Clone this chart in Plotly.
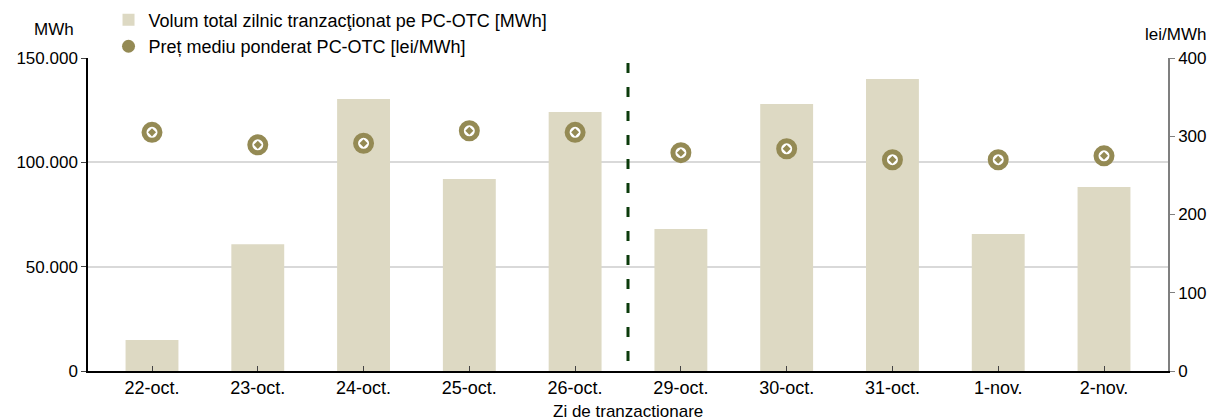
import plotly.graph_objects as go
from plotly.subplots import make_subplots

days = ['22-oct.', '23-oct.', '24-oct.', '25-oct.', '26-oct.',
        '29-oct.', '30-oct.', '31-oct.', '1-nov.', '2-nov.']
volume_mwh = [14800, 60800, 130300, 92000, 124100, 68000, 128000, 139900, 65600, 88200]
price_lei = [305, 289, 291, 307, 305, 279, 284, 270, 270, 275]
week_split = 5  # number of days before the dashed separator

BAR_COL = '#ddd9c3'
DOT_COL = '#948a54'
FONT = 'Liberation Sans, Arial, sans-serif'

fig = make_subplots(specs=[[{'secondary_y': True}]])

fig.add_trace(go.Bar(x=days, y=volume_mwh, name='Volum total zilnic tranzacţionat pe PC-OTC [MWh]',
                     marker=dict(color=BAR_COL, line_width=0), width=0.5), secondary_y=False)

# markers: olive ring, white ring, olive dot
fig.add_trace(go.Scatter(x=days, y=price_lei, mode='markers', showlegend=False,
                         marker=dict(symbol='circle-dot', size=16, color='white',
                                     line=dict(color=DOT_COL, width=5))), secondary_y=True)
# legend-only entry (solid dot, like the original)
fig.add_trace(go.Scatter(x=[None], y=[None], mode='markers', name='Preț mediu ponderat PC-OTC [lei/MWh]',
                         marker=dict(symbol='circle', size=13, color=DOT_COL)), secondary_y=True)

# drawn top -> bottom so the dash pattern starts at the top
fig.add_shape(type='line', xref='x', yref='paper', x0=week_split - 0.5, x1=week_split - 0.5,
              y0=0.984, y1=0, line=dict(color='#0b3b0b', width=3, dash='10px,14px'))

fig.update_xaxes(domain=[0, 1], showline=True, linecolor='black', linewidth=1.5, ticks='inside',
                 ticklen=5, tickcolor='#444', showgrid=False, tickfont=dict(size=18))
fig.update_yaxes(range=[0, 150000], tickvals=[0, 50000, 100000, 150000], tickformat=',d',
                 showline=True, linecolor='black', linewidth=1.5, ticks='outside', ticklen=5,
                 gridcolor='#d9d9d9', gridwidth=2, zeroline=False, secondary_y=False)
fig.update_yaxes(range=[0, 400], tickvals=[0, 100, 200, 300, 400],
                 showline=True, linecolor='#7f7f7f', linewidth=1.5, ticks='outside', ticklen=5,
                 tickcolor='#7f7f7f', showgrid=False, zeroline=False, secondary_y=True)

fig.add_annotation(text='Zi de tranzactionare', xref='paper', yref='paper', x=0.5, y=0,
                   yanchor='top', yshift=-29, showarrow=False, font=dict(size=17))
fig.add_annotation(text='MWh', xref='paper', yref='paper', x=-0.011, y=1.054, xanchor='right',
                   yanchor='bottom', showarrow=False, font=dict(size=17))
fig.add_annotation(text='lei/MWh', xref='paper', yref='paper', x=1.037, y=1.038, xanchor='right',
                   yanchor='bottom', showarrow=False, font=dict(size=17))

# the page body adds 8px on the left and top, so the figure is 8px smaller
fig.update_layout(
    width=1208, height=412,
    margin=dict(l=80, r=48, t=50, b=49, autoexpand=False),
    paper_bgcolor='white', plot_bgcolor='white',
    font=dict(family=FONT, size=17, color='black'),
    separators=',.',
    legend=dict(x=0.019, y=1.18, xanchor='left', yanchor='top', bgcolor='rgba(0,0,0,0)',
                font=dict(size=18), tracegroupgap=0, itemwidth=30),
)

fig.write_html('out.html')
